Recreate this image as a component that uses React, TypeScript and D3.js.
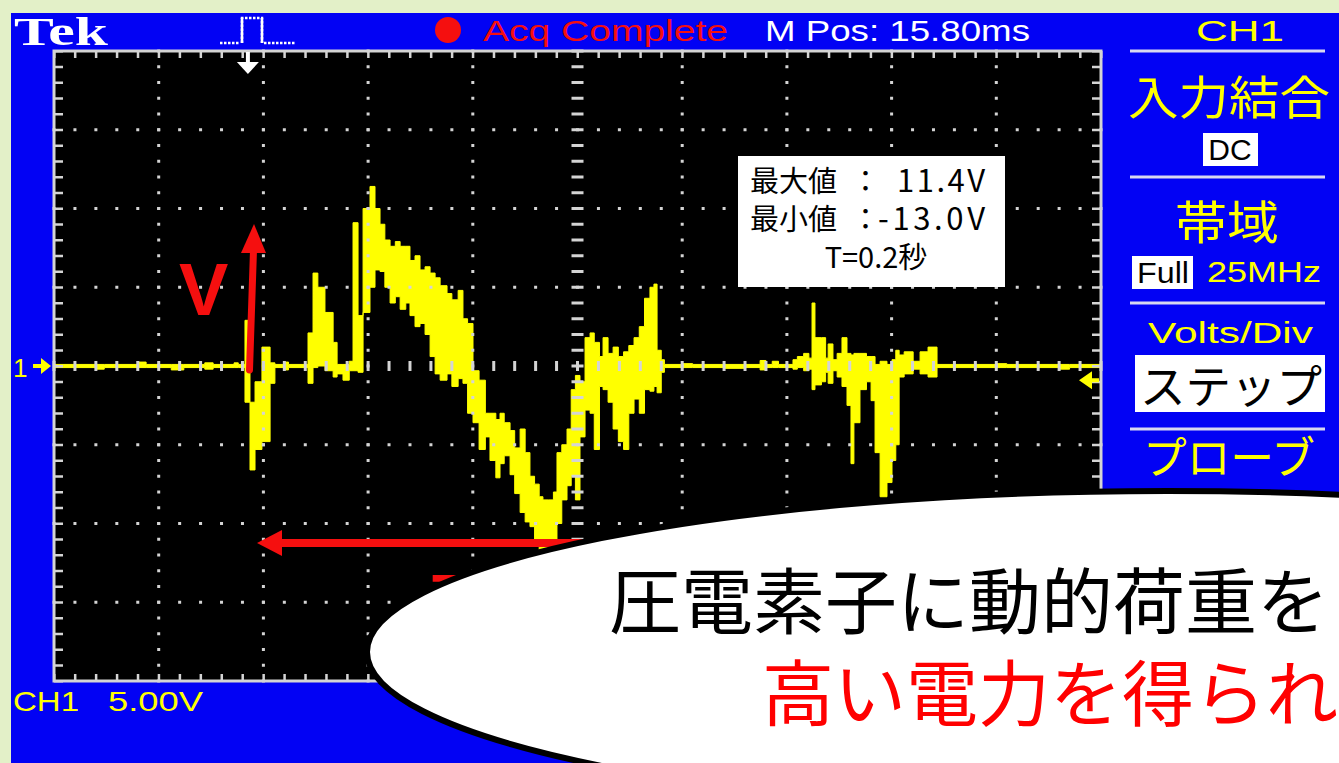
import React from "react";
import * as d3 from "d3";

// Oscilloscope capture: CH1, 5.00 V/div, 50 ms/div (10 divisions)
const timeMs = [
  0, 20, 24, 40, 44, 56, 62, 72, 76, 86, 88,
  91.2, 93.6, 96, 99.3, 103.2, 105.5, 110, 112,
  121.3, 123.7, 126, 129.4, 133.3, 135.2, 138, 141,
  142.8, 145.2, 147.6, 150.9, 153.3, 155.7, 158, 160.5, 163, 165.3, 168, 170,
  172.4, 174.8, 177.2, 179.6, 182, 184.4, 187.7, 190, 193, 195.3, 197.5,
  200.1, 203, 206, 208.2, 211, 213, 215, 217.8, 220, 222.6, 225, 227.3,
  229.5, 231.7, 233.5, 236, 238.5, 240.2, 242.5, 245, 247, 249,
  251.2, 253.6, 256, 258, 260.5, 262.2, 264.6, 267, 269.5, 272, 274.5,
  277, 279.5, 282, 284.6, 286.5, 288, 290, 291.5,
  300, 305, 320, 330, 337.2, 340, 343, 346,
  352.9, 355, 358, 360.5, 362, 363.4, 366.5, 368.5, 369.7, 372, 374,
  376.3, 378.7, 380.6, 382, 384.9, 388, 390.2, 392.1, 394.5, 397.8,
  400.2, 402, 403.6, 406, 410.3, 413.6, 417.4, 421.7,
  450, 455, 480, 485, 500,
];

const vLow = [
  -0.1, -0.2, -0.1, -0.1, -0.1, -0.25, -0.1, -0.2, -0.1, -0.1, -0.1,
  -2.3, -6.6, -5.3, -4.8, -1.1, -0.1, -0.25, -0.1,
  -1.1, -0.1, 0, -0.3, -0.7, -0.5, -0.9, -0.3,
  -0.3, -0.4, 3.4, 5.0, 6.1, 6.0, 5.0, 4.0, 4.4, 3.6, 4.0, 3.2,
  2.5, 2.7, 2.0, 0.6, -0.5, -0.9, -0.5, -1.3, -0.8, -1.1, -3.0,
  -3.6, -5.3, -4.5, -6.0, -7.1, -6.2, -5.7, -6.9, -8.1, -9.3, -9.9, -10.2,
  -11.0, -12.0, -13.0, -12.4, -11.5, -10.0, -8.5, -7.6, -7.0, -8.5,
  -4.5, -2.8, -3.0, -5.3, -1.3, -1.5, -2.3, -4.0, -4.8, -5.3, -3.0,
  -2.1, -3.0, -1.5, -1.6, -1.3, -1.7, -0.4, -0.1,
  -0.1, -0.1, -0.15, -0.1, -0.25, -0.1, -0.1, -0.1,
  -0.2, -0.1, -0.3, -0.2, -1.5, -1.2, -1.0, -0.4, -1.1, -0.3, -0.7,
  -1.3, -2.5, -6.2, -3.6, -1.5, -1.0, -2.2, -5.5, -8.3, -7.4,
  -6.0, -5.0, -0.7, -0.5, -0.2, -0.5, -0.7, -0.1,
  -0.1, -0.1, -0.2, -0.1, -0.1,
];

const vHigh = [
  0.1, 0.1, 0.1, 0.25, 0.1, 0.1, 0.1, 0.2, 0.1, 0.2, 0.1,
  2.9, -2.3, -1.0, 1.2, 0.2, 0.1, 0.25, 0.1,
  2.1, 5.9, 5.0, 3.4, 1.5, 0.1, 0.1, 0.3,
  9.1, 3.2, 10.0, 11.4, 10.0, 9.0, 8.0, 7.6, 7.9, 7.6, 7.6, 6.7,
  7.0, 6.1, 6.3, 5.9, 5.6, 5.1, 4.6, 4.2, 4.8, 3.0, 2.7,
  -0.3, -0.9, -3.0, -3.0, -3.4, -3.0, -3.6, -4.1, -5.2, -4.0, -5.5, -7.0,
  -7.5, -8.3, -8.5, -8.5, -8.0, -5.5, -5.0, -4.0, -1.5, -0.6,
  -1.0, 1.8, 2.1, 1.5, 0.6, 1.8, 0.8, 1.2, 0.6, 0.9, 1.3,
  1.8, 2.5, 4.3, 5.0, 5.2, 1.0, 0.4, 0.1,
  0.15, 0.1, 0.1, 0.1, 0.35, 0.1, 0.3, 0.1,
  0.4, 0.6, 0.8, 0.5, 4.0, 1.8, 1.8, 0.5, 1.4, 0.4, 0.8,
  1.8, 0.8, 0.7, 0.8, 0.8, 0.6, 0.6, 0.1, 0.3, 0.1,
  0.4, 1.0, 0.7, 0.9, 0.3, 0.9, 1.2, 0.1,
  0.15, 0.1, 0.1, 0.1, 0.1,
];

const triggerTimeMs = 92.6;
const triggerLevelV = -0.9;

const topBarLabels = { brand: "Tek", state: "Acq Complete", mpos: "M Pos: 15.80ms" };
const channelLabel = "CH1";
const scaleLabel = "5.00V";
const menuItems = ["入力結合", "DC", "帯域", "Full", "25MHz", "Volts/Div", "ステップ", "プローブ"];
const measureNames = ["最大値", "最小値"];
const measureValues = ["11.4V", "-13.0V"];
const periodLabel = "T=0.2秒";
const bubbleLines = ["圧電素子に動的荷重を", "高い電力を得られ"];

const BLUE = "#0202f4";
const YELLOW = "#ffff00";
const RED = "#f50f0f";
const GRID = "#d4d4d4";
const UI = "'Liberation Sans', 'DejaVu Sans', sans-serif";
const JP = "'Noto Sans CJK JP', 'Noto Sans', sans-serif";

export default function App() {
  const x = d3.scaleLinear().domain([0, 500]).range([54, 1101]);
  const y = d3.scaleLinear().domain([-20, 20]).range([681, 51]);

  const trace = d3
    .area<number>()
    .x((_, i) => x(timeMs[i]))
    .y0((_, i) => y(vLow[i]))
    .y1((_, i) => y(vHigh[i]))
    .curve(d3.curveStepAfter)(timeMs) as string;

  const divTimes = d3.range(50, 500, 50);
  const divVolts = d3.range(-15, 20, 5);
  const minorT = d3.range(0, 501, 10);
  const minorV = d3.range(-20, 21, 1);

  const dots: React.ReactElement[] = [];
  divTimes.filter((t) => t !== 250).forEach((t) =>
    minorV.forEach((v) =>
      dots.push(<rect key={`vd${t}_${v}`} x={x(t) - 1.5} y={y(v) - 1.5} width={3} height={3} fill={GRID} />)
    )
  );
  divVolts.filter((v) => v !== 0).forEach((v) =>
    minorT.forEach((t) =>
      dots.push(<rect key={`hd${t}_${v}`} x={x(t) - 1.5} y={y(v) - 1.5} width={3} height={3} fill={GRID} />)
    )
  );
  // centre cross with minor dashes
  minorV.forEach((v) =>
    dots.push(<rect key={`cv${v}`} x={x(250) - 6} y={y(v) - 1.5} width={12} height={3} fill={GRID} />)
  );
  minorT.forEach((t) =>
    dots.push(<rect key={`ch${t}`} x={x(t) - 1.5} y={y(0) - 5} width={3} height={10} fill={GRID} />)
  );
  // border ticks
  minorT.forEach((t) => {
    dots.push(<rect key={`tt${t}`} x={x(t) - 1} y={y(20)} width={2.5} height={7} fill={GRID} />);
    dots.push(<rect key={`bt${t}`} x={x(t) - 1} y={y(-20) - 7} width={2.5} height={7} fill={GRID} />);
  });
  minorV.forEach((v) => {
    dots.push(<rect key={`lt${v}`} x={x(0)} y={y(v) - 1} width={9} height={2.5} fill={GRID} />);
    dots.push(<rect key={`rt${v}`} x={x(500) - 9} y={y(v) - 1} width={9} height={2.5} fill={GRID} />);
  });

  const tx = x(triggerTimeMs);
  const ty = y(triggerLevelV);

  return (
    <svg width={1339} height={763} style={{ position: "absolute", left: 0, top: 0 }}>
      <defs>
        <clipPath id="screen">
          <rect x={x(0)} y={y(20)} width={x(500) - x(0)} height={y(-20) - y(20)} />
        </clipPath>
      </defs>
      <rect width={1339} height={763} fill="#e3f0c8" />
      <rect x={11} y={13} width={1328} height={750} fill={BLUE} />

      {/* top bar */}
      <text x={14} y={45} fill="#fff" fontFamily="'Liberation Serif', serif" fontWeight="bold" fontSize={40} textLength={94} lengthAdjust="spacingAndGlyphs">{topBarLabels.brand}</text>
      <path d="M220,43 H240 M242,43 V18 H262 V43 M264,43 H296" stroke="#fff" strokeWidth={2.5} fill="none" strokeDasharray="2.5 1.5" />
      <path d="M242,43 V18 M262,18 V43" stroke="#fff" strokeWidth={2.5} fill="none" />
      <circle cx={448} cy={30} r={13} fill={RED} />
      <text x={483} y={41} fill={RED} fontFamily={UI} fontSize={29} textLength={245} lengthAdjust="spacingAndGlyphs">{topBarLabels.state}</text>
      <text x={765} y={41} fill="#fff" fontFamily={UI} fontSize={29} textLength={265} lengthAdjust="spacingAndGlyphs">{topBarLabels.mpos}</text>

      {/* screen */}
      <rect x={x(0)} y={y(20)} width={x(500) - x(0)} height={y(-20) - y(20)} fill="#000" />
      <g clipPath="url(#screen)">
        <path d={trace} fill={YELLOW} stroke={YELLOW} strokeWidth={1} />
      </g>
      {dots}
      <rect x={x(0)} y={y(20)} width={x(500) - x(0)} height={y(-20) - y(20)} fill="none" stroke={GRID} strokeWidth={3} />

      {/* trigger position and level markers */}
      <rect x={tx - 2} y={52} width={4} height={12} fill="#fff" />
      <path d={`M${tx - 11},62 H${tx + 11} L${tx},74 Z`} fill="#fff" />
      <path d={`M${x(500) - 22},${ty} L${x(500) - 9},${ty - 9} V${ty + 9} Z M${x(500) - 10},${ty - 2} h8 v4 h-8 Z`} fill={YELLOW} />
      <text x={13} y={y(0) + 11} fill={YELLOW} fontFamily={UI} fontSize={26}>1</text>
      <path d={`M33,${y(0) - 2} h8 v-6 l10,8 l-10,8 v-6 h-8 Z`} fill={YELLOW} />

      {/* channel scale */}
      <text x={13} y={711} fill={YELLOW} fontFamily={UI} fontSize={28} textLength={66} lengthAdjust="spacingAndGlyphs">{channelLabel}</text>
      <text x={108} y={711} fill={YELLOW} fontFamily={UI} fontSize={28} textLength={95} lengthAdjust="spacingAndGlyphs">{scaleLabel}</text>

      {/* side menu */}
      <text x={1240} y={41} fill={YELLOW} fontFamily={UI} fontSize={29} textAnchor="middle" textLength={88} lengthAdjust="spacingAndGlyphs">{channelLabel}</text>
      {[51, 177, 303, 429].map((ly) => (
        <rect key={ly} x={1130} y={ly - 1.5} width={195} height={3} fill="#d8d8f0" />
      ))}
      <text x={1128} y={114} fill={YELLOW} fontFamily={JP} fontSize={46} textLength={202} lengthAdjust="spacingAndGlyphs">{menuItems[0]}</text>
      <rect x={1203} y={133} width={55} height={33} fill="#fff" />
      <text x={1230} y={160} fill="#000" fontFamily={UI} fontSize={30} textAnchor="middle">{menuItems[1]}</text>
      <text x={1175} y={239} fill={YELLOW} fontFamily={JP} fontSize={46} textLength={104} lengthAdjust="spacingAndGlyphs">{menuItems[2]}</text>
      <rect x={1132} y={256} width={61} height={33} fill="#fff" />
      <text x={1137} y={283} fill="#000" fontFamily={UI} fontSize={29} textLength={52} lengthAdjust="spacingAndGlyphs">{menuItems[3]}</text>
      <text x={1207} y={282} fill={YELLOW} fontFamily={UI} fontSize={29} textLength={114} lengthAdjust="spacingAndGlyphs">{menuItems[4]}</text>
      <text x={1148} y={343} fill={YELLOW} fontFamily={UI} fontSize={29} textLength={165} lengthAdjust="spacingAndGlyphs">{menuItems[5]}</text>
      <rect x={1135} y={355} width={190} height={57} fill="#fff" />
      <text x={1140} y={403} fill="#000" fontFamily={JP} fontSize={46} textLength={182} lengthAdjust="spacingAndGlyphs">{menuItems[6]}</text>
      <text x={1143} y={474} fill={YELLOW} fontFamily={JP} fontSize={44} textLength={172} lengthAdjust="spacingAndGlyphs">{menuItems[7]}</text>

      {/* measurement readout */}
      <rect x={738} y={156} width={267} height={131} fill="#fff" />
      {measureNames.map((n, i) => (
        <text key={n} y={192 + i * 38} fill="#000" fontFamily={JP} fontSize={29}>
          <tspan x={750}>{n}</tspan>
          <tspan x={851}>：</tspan>
          <tspan x={i === 0 ? 897 : 878} fontSize={31} textLength={i === 0 ? 88 : 107} lengthAdjust="spacing">{measureValues[i]}</tspan>
        </text>
      ))}
      <text x={876} y={268} fill="#000" fontFamily={JP} fontSize={29} textAnchor="middle">{periodLabel}</text>

      {/* annotations */}
      <text x={179} y={315} fill={RED} fontFamily={UI} fontWeight="bold" fontSize={74}>V</text>
      <line x1={249.5} y1={370} x2={253.5} y2={250} stroke={RED} strokeWidth={7} strokeLinecap="round" />
      <path d="M241,253 L266,253 L254,224 Z" fill={RED} />
      <rect x={278} y={539} width={330} height={8} fill={RED} />
      <path d="M257,543 L282,530 L282,556 Z" fill={RED} />
      <text x={432} y={617} fill={RED} fontFamily={UI} fontWeight="bold" fontSize={62}>T</text>

      {/* speech bubble */}
      <ellipse cx={1167} cy={652} rx={800} ry={161} fill="#fff" stroke="#000" strokeWidth={6} />
      <text fontFamily={JP} fontSize={72}>
        <tspan x={609} y={628} fill="#000">{bubbleLines[0]}</tspan>
        <tspan x={762} y={720} fill="#ff0000">{bubbleLines[1]}</tspan>
      </text>
    </svg>
  );
}
